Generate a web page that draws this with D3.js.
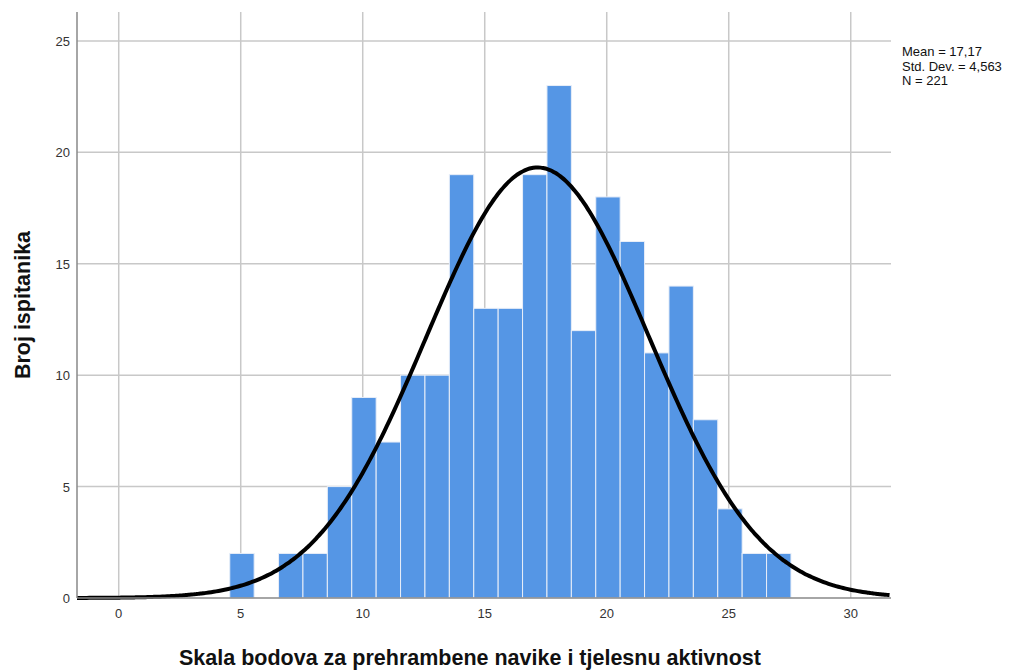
<!DOCTYPE html>
<html>
<head>
<meta charset="utf-8">
<script src="https://cdn.jsdelivr.net/npm/d3@7"></script>
<style>
  body { margin: 0; background: #fff; }
  text { font-family: "Liberation Sans", Arial, sans-serif; }
</style>
</head>
<body>
<div id="chart"></div>
<script>
// score values and number of respondents per value
const scores = [5, 6, 7, 8, 9, 10, 11, 12, 13, 14, 15, 16, 17, 18, 19, 20, 21, 22, 23, 24, 25, 26, 27];
const counts = [2, 0, 2, 2, 5, 9, 7, 10, 10, 19, 13, 13, 19, 23, 12, 18, 16, 11, 14, 8, 4, 2, 2];
const xTicks = [0, 5, 10, 15, 20, 25, 30];
const yTicks = [0, 5, 10, 15, 20, 25];
const stats = { mean: 17.17, sd: 4.563, n: 221 };
const statLines = ['Mean = 17,17', 'Std. Dev. = 4,563', 'N = 221'];

const width = 1022, height = 671;
const margin = { top: 12, right: 131, bottom: 73, left: 77 };
const innerWidth = width - margin.left - margin.right;
const innerHeight = height - margin.top - margin.bottom;

const svg = d3.select('#chart')
  .append('svg')
  .attr('width', width)
  .attr('height', height);

const g = svg.append('g')
  .attr('transform', `translate(${margin.left},${margin.top})`);

const xScale = d3.scaleLinear().domain([-1.71, 31.65]).range([0, innerWidth]);
const yScale = d3.scaleLinear().domain([0, 26.3]).range([innerHeight, 0]);

// grid
g.selectAll('.vgrid')
  .data(xTicks)
  .enter().append('line')
  .attr('x1', d => xScale(d)).attr('x2', d => xScale(d))
  .attr('y1', 0).attr('y2', innerHeight)
  .attr('stroke', '#c8c8c8').attr('stroke-width', 1.5);

g.selectAll('.hgrid')
  .data(yTicks.filter(d => d > 0))
  .enter().append('line')
  .attr('x1', 0).attr('x2', innerWidth)
  .attr('y1', d => yScale(d)).attr('y2', d => yScale(d))
  .attr('stroke', '#c8c8c8').attr('stroke-width', 1.5);

// bars (bin edges sit slightly off the integers, as in the SPSS output)
const OFF = 0.45;
g.selectAll('.bar')
  .data(scores.map((s, i) => ({ s, c: counts[i] })).filter(d => d.c > 0))
  .enter().append('rect')
  .attr('x', d => xScale(d.s - OFF))
  .attr('width', xScale(1) - xScale(0))
  .attr('y', d => yScale(d.c))
  .attr('height', d => yScale(0) - yScale(d.c))
  .attr('fill', '#5596e5')
  .attr('stroke', '#e8eef8')
  .attr('stroke-width', 1);

// normal curve
const pdf = x => stats.n / (stats.sd * Math.sqrt(2 * Math.PI)) *
  Math.exp(-0.5 * Math.pow((x - stats.mean) / stats.sd, 2));
const curve = d3.range(-1.71, 31.66, 0.1).map(x => [x, pdf(x)]);
g.append('path')
  .datum(curve)
  .attr('fill', 'none')
  .attr('stroke', '#000')
  .attr('stroke-width', 4)
  .attr('d', d3.line().x(d => xScale(d[0])).y(d => yScale(d[1])).curve(d3.curveMonotoneX));

// axes lines
g.append('line')
  .attr('x1', 0).attr('x2', 0).attr('y1', 0).attr('y2', innerHeight)
  .attr('stroke', '#888').attr('stroke-width', 1.5);
g.append('line')
  .attr('x1', 0).attr('x2', innerWidth).attr('y1', innerHeight).attr('y2', innerHeight)
  .attr('stroke', '#888').attr('stroke-width', 1.5);

// tick labels
g.selectAll('.xlab')
  .data(xTicks)
  .enter().append('text')
  .attr('x', d => xScale(d))
  .attr('y', innerHeight + 20)
  .attr('text-anchor', 'middle')
  .attr('font-size', '13px')
  .attr('fill', '#333')
  .text(d => d);

g.selectAll('.ylab')
  .data(yTicks)
  .enter().append('text')
  .attr('x', -7)
  .attr('y', d => yScale(d) + 5)
  .attr('text-anchor', 'end')
  .attr('font-size', '13px')
  .attr('fill', '#333')
  .text(d => d);

// titles
svg.append('text')
  .attr('x', 470)
  .attr('y', 665)
  .attr('text-anchor', 'middle')
  .attr('font-size', '21.5px')
  .attr('font-weight', 'bold')
  .attr('fill', '#111')
  .text('Skala bodova za prehrambene navike i tjelesnu aktivnost');

svg.append('text')
  .attr('transform', 'rotate(-90)')
  .attr('x', -305)
  .attr('y', 30)
  .attr('text-anchor', 'middle')
  .attr('font-size', '21.5px')
  .attr('font-weight', 'bold')
  .attr('fill', '#111')
  .text('Broj ispitanika');

// stats box
svg.selectAll('.stat')
  .data(statLines)
  .enter().append('text')
  .attr('x', 902)
  .attr('y', (d, i) => 56 + i * 14.5)
  .attr('font-size', '13px')
  .attr('fill', '#111')
  .text(d => d);
</script>
</body>
</html>
